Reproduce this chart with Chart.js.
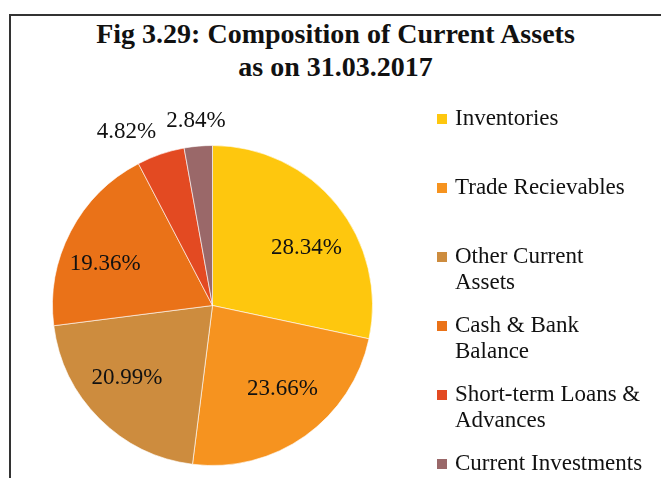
<!DOCTYPE html>
<html>
<head>
<meta charset="utf-8">
<script src="https://cdn.jsdelivr.net/npm/chart.js@4.4.0/dist/chart.umd.min.js"></script>
<style>
  html, body { margin: 0; padding: 0; background: #fff; }
  #wrap { position: relative; width: 661px; height: 478px; overflow: hidden; }
  #frame {
    position: absolute; left: 9px; top: 14px; width: 700px; height: 500px;
    border-left: 2px solid #333; border-top: 2px solid #333;
  }
  #title {
    position: absolute; left: 10px; top: 17px; width: 651px; text-align: center;
    font-family: "Liberation Serif", serif; font-weight: bold; font-size: 28px;
    line-height: 33px; color: #111;
  }
  #pie { position: absolute; left: 0; top: 0; }
  #legend {
    position: absolute; left: 437px; top: 105px;
    font-family: "Liberation Serif", serif; font-size: 23px; line-height: 26px; color: #111;
  }
  .item { height: 69px; position: relative; padding-left: 18px; white-space: pre-line; }
  .item span.box { position: absolute; left: 0; top: 9px; width: 10px; height: 10px; }
</style>
</head>
<body>
<div id="wrap">
  <div id="frame"></div>
  <div id="title">Fig 3.29: Composition of Current Assets<br>as on 31.03.2017</div>
  <canvas id="pie" width="661" height="478"></canvas>
  <div id="legend"></div>
</div>
<script>
const categories = ["Inventories", "Trade Recievables", "Other Current\nAssets",
  "Cash & Bank\nBalance", "Short-term Loans &\nAdvances", "Current Investments"];
const shares = [28.34, 23.66, 20.99, 19.36, 4.82, 2.84];
const colours = ["#FEC70E", "#F6931F", "#CD8C3E", "#EA7218", "#E34A22", "#9A6869"];
// slices that get their label outside the pie
const outsideLabels = [false, false, false, false, true, true];

// percentage labels, inside big slices and outside small ones
const valueLabels = {
  id: "valueLabels",
  afterDatasetsDraw(chart) {
    const ctx = chart.ctx;
    const meta = chart.getDatasetMeta(0);
    ctx.save();
    ctx.font = '23px "Liberation Serif"';
    ctx.fillStyle = "#111";
    ctx.textAlign = "center";
    ctx.textBaseline = "middle";
    const h = 22;
    let prev = null;
    // go backwards so the outside labels near the top are placed first
    for (let i = meta.data.length - 1; i >= 0; i--) {
      const p = meta.data[i].getProps(["x", "y", "startAngle", "endAngle", "outerRadius"], true);
      const mid = (p.startAngle + p.endAngle) / 2;
      const text = shares[i].toFixed(2) + "%";
      const w = ctx.measureText(text).width;
      const c = Math.cos(mid), s = Math.sin(mid);
      let cx, cy;
      if (!outsideLabels[i]) {
        // wide text sits better a bit flattened towards the sides
        const d = p.outerRadius * 0.7;
        cx = p.x + c * d * 1.08;
        cy = p.y + s * d * 0.87 + 4;
      } else {
        const d = p.outerRadius + 12 + Math.abs(c) * w / 2 + Math.abs(s) * h / 2;
        cx = p.x + c * d;
        cy = p.y + s * d;
        if (prev && cx + w / 2 > prev.left - 10 && cx < prev.cx) {
          const shift = cx + w / 2 - (prev.left - 10);
          cx -= shift;
          cy += shift / 3;
        }
        prev = { cx: cx, left: cx - w / 2 };
      }
      ctx.fillText(text, cx, cy);
    }
    ctx.restore();
  }
};

new Chart(document.getElementById("pie"), {
  type: "pie",
  data: {
    labels: categories,
    datasets: [{
      data: shares,
      backgroundColor: colours,
      borderColor: "rgba(255,255,255,0.6)",
      borderWidth: 1
    }]
  },
  options: {
    responsive: false,
    animation: false,
    layout: { padding: { left: 52, right: 288, top: 145, bottom: 12 } },
    plugins: { legend: { display: false }, tooltip: { enabled: false } }
  },
  plugins: [valueLabels]
});

// legend
const legend = document.getElementById("legend");
categories.forEach((name, i) => {
  legend.innerHTML += `<div class="item"><span class="box" style="background:${colours[i]}"></span>${name}</div>`;
});
</script>
</body>
</html>
